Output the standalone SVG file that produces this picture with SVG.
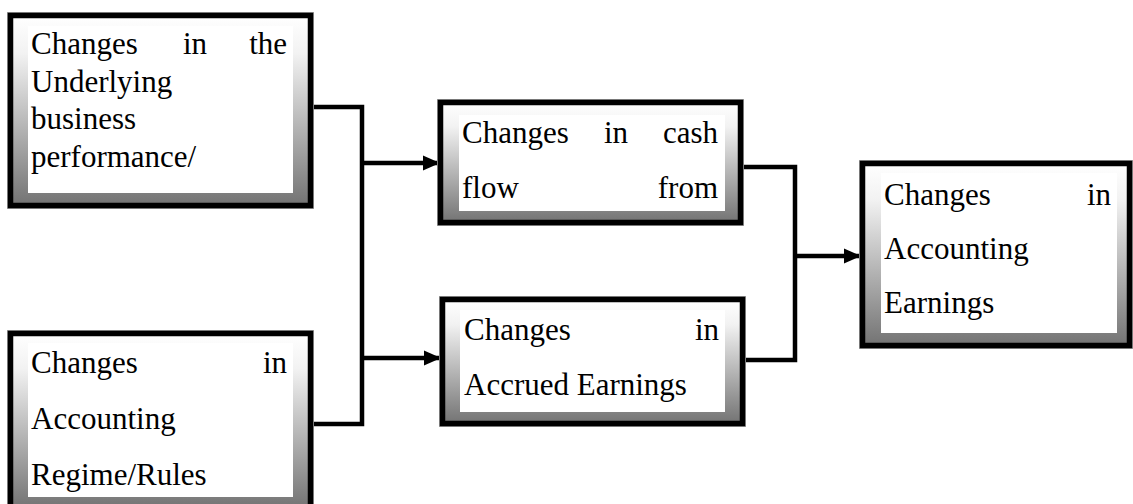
<svg xmlns="http://www.w3.org/2000/svg" width="1133" height="504" viewBox="0 0 1133 504">
<defs>
<linearGradient id="g" x1="0" y1="0" x2="0" y2="1">
<stop offset="0" stop-color="#ffffff"/>
<stop offset="0.2" stop-color="#f2f2f2"/>
<stop offset="1" stop-color="#737373"/>
</linearGradient>
<marker id="arr" markerUnits="userSpaceOnUse" markerWidth="17" markerHeight="17" viewBox="0 0 17 17" refX="17" refY="8.5" orient="auto">
<path d="M0,1 L17,8.5 L0,16 Z" fill="#000"/>
</marker>
<style>
.frame{fill:url(#g);stroke:#000;stroke-width:5.5}
.halo{fill:none;stroke:#a0a0a0;stroke-width:1}
.inner{fill:#fff}
.t{font-size:31px;fill:#000}
.e{text-anchor:end}
.m{text-anchor:middle}
.c{fill:none;stroke:#000;stroke-width:4.5}
</style>
</defs>
<rect width="1133" height="504" fill="#fff"/>
<g id="connectors">
<path class="c" d="M313,107 H362 V424 H313"/>
<path class="c" d="M362,163 H440" marker-end="url(#arr)"/>
<path class="c" d="M362,358 H441" marker-end="url(#arr)"/>
<path class="c" d="M743,167 H795 V360 H745"/>
<path class="c" d="M795,256 H861" marker-end="url(#arr)"/>
</g>
<g id="node-business" font-family="Liberation Serif, Times New Roman, serif">
<rect class="halo" x="7.5" y="12.5" width="306" height="196"/>
<rect class="frame" x="10.5" y="15.5" width="300" height="190"/>
<rect class="inner" x="28" y="26" width="265" height="167"/>
<text class="t" x="31" y="54">Changes</text>
<text class="t m" x="195" y="54">in</text>
<text class="t e" x="287" y="54">the</text>
<text class="t" x="31" y="92">Underlying</text>
<text class="t" x="31" y="129">business</text>
<text class="t" x="31" y="167">performance/</text>
</g>
<g id="node-regime" font-family="Liberation Serif, Times New Roman, serif">
<rect class="halo" x="7.5" y="330.5" width="306" height="180"/>
<rect class="frame" x="10.5" y="333.5" width="300" height="175"/>
<rect class="inner" x="28" y="343" width="265" height="154"/>
<text class="t" x="31" y="373">Changes</text>
<text class="t e" x="287" y="373">in</text>
<text class="t" x="31" y="429">Accounting</text>
<text class="t" x="31" y="485">Regime/Rules</text>
</g>
<g id="node-cashflow" font-family="Liberation Serif, Times New Roman, serif">
<rect class="halo" x="437.5" y="99.5" width="306" height="126"/>
<rect class="frame" x="440.5" y="102.5" width="300" height="120"/>
<rect class="inner" x="459" y="115" width="266" height="96"/>
<text class="t" x="462" y="143">Changes</text>
<text class="t m" x="616" y="143">in</text>
<text class="t e" x="718" y="143">cash</text>
<text class="t" x="462" y="198">flow</text>
<text class="t e" x="718" y="198">from</text>
</g>
<g id="node-accrued" font-family="Liberation Serif, Times New Roman, serif">
<rect class="halo" x="439.5" y="296.5" width="306" height="130"/>
<rect class="frame" x="442.5" y="299.5" width="300" height="124"/>
<rect class="inner" x="460" y="310" width="265" height="102"/>
<text class="t" x="464" y="340">Changes</text>
<text class="t e" x="719" y="340">in</text>
<text class="t" x="464" y="395">Accrued Earnings</text>
</g>
<g id="node-earnings" font-family="Liberation Serif, Times New Roman, serif">
<rect class="halo" x="859.5" y="160.5" width="273" height="188"/>
<rect class="frame" x="862.5" y="163.5" width="267" height="182"/>
<rect class="inner" x="881" y="173" width="236" height="160"/>
<text class="t" x="884" y="205">Changes</text>
<text class="t e" x="1111" y="205">in</text>
<text class="t" x="884" y="259">Accounting</text>
<text class="t" x="884" y="313">Earnings</text>
</g>
</svg>
